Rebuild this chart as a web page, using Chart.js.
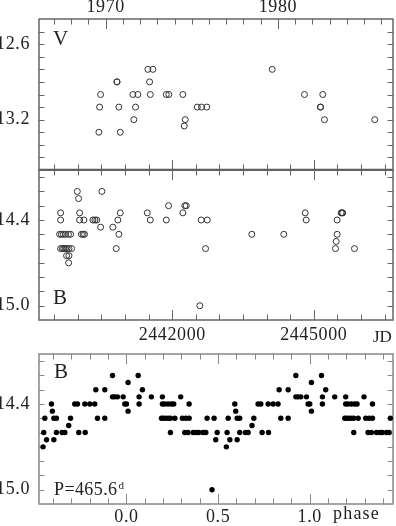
<!DOCTYPE html>
<html><head><meta charset="utf-8">
<script src="https://cdn.jsdelivr.net/npm/chart.js@4.4.0/dist/chart.umd.min.js"></script>
<style>
html,body{margin:0;padding:0;background:#fff;width:396px;height:526px;overflow:hidden}
canvas{position:absolute;left:0}
</style></head><body>
<canvas id="cV" width="396" height="171" style="top:0"></canvas>
<canvas id="cB" width="396" height="181" style="top:169px"></canvas>
<canvas id="cP" width="396" height="186" style="top:340px"></canvas>
<script>
// ---- data ----
const vJD  = [2440445,2440460,2440481,2440826,2440830,2440868,2440898,2441165,2441186,2441222,2441271,2441483,2441519,2441534,2441589,2441873,2441928,2442225,2442254,2442275,2442530,2442621,2442733,2444119,2444803,2445140,2445145,2445191,2445227,2446293];
const vMag = [13.3,13.1,13.0,12.9,12.9,13.1,13.3,13.0,13.2,13.1,13.0,12.8,12.9,13.0,12.8,13.0,13.0,13.0,13.25,13.2,13.1,13.1,13.1,12.8,13.0,13.1,13.1,13.0,13.2,13.2];

const bJD  = [2439633,2439633,2439612,2439650,2439690,2439740,2439800,2439845,2439633,2439670,2439700,2439730,2439770,2439810,2439866,2439760,2439810,2439803,2439987,2440014,2440036,2440036,2440127,2440075,2440110,2440140,2440318,2440360,2440400,2440481,2440508,2440741,2440813,2440847,2440868,2440898,2441470,2441534,2441873,2441922,2442225,2442267,2442297,2442585,2442614,2442706,2442742,2443687,2444365,2444818,2444839,2445460,2445475,2445496,2445496,2445581,2445600,2445615,2445863];
const bMag = [14.35,14.40,14.50,14.50,14.50,14.50,14.50,14.50,14.60,14.60,14.60,14.60,14.60,14.60,14.60,14.65,14.65,14.70,14.20,14.25,14.35,14.40,14.40,14.50,14.50,14.50,14.40,14.40,14.40,14.45,14.20,14.45,14.60,14.40,14.50,14.35,14.35,14.40,14.40,14.30,14.35,14.30,14.30,15.00,14.40,14.60,14.40,14.50,14.50,14.35,14.40,14.60,14.55,14.50,14.40,14.35,14.35,14.35,14.60];

// phases of one cycle (0..1) and B magnitudes
const phaseBase = [0.000,0.009,0.009,0.064,0.069,0.069,0.087,0.136,0.191,0.196,0.196,0.200,0.209,0.213,0.227,0.227,0.240,0.240,0.245,0.258,0.264,0.296,0.305,0.318,0.324,0.336,0.342,0.342,0.364,0.382,0.395,0.418,0.433,0.440,0.467,0.478,0.487,0.495,0.545,0.549,0.555,0.564,0.591,0.596,0.604,0.604,0.618,0.618,0.649,0.664,0.685,0.695,0.718,0.733,0.740,0.773,0.775,0.800,0.827,0.833,0.842,0.882,0.882,0.924,0.924,0.936,0.951,0.982,0.991];
const phaseMag  = [14.40,14.25,14.45,14.20,14.35,14.40,14.30,14.35,14.50,14.35,14.40,14.50,14.40,14.50,14.40,14.50,14.50,14.60,14.40,14.40,14.50,14.35,14.50,14.60,14.50,14.60,14.40,14.50,14.60,14.60,14.60,14.60,14.60,14.50,15.00,14.50,14.65,14.60,14.70,14.60,14.50,14.65,14.40,14.45,14.50,14.65,14.50,14.60,14.60,14.60,14.55,14.50,14.40,14.40,14.60,14.40,14.60,14.40,14.40,14.30,14.50,14.30,14.50,14.20,14.35,14.35,14.35,14.35,14.40];

// tick labels
const yearTickYears  = [1970, 1980];
const yearTickLabels = ['1970', '1980'];
const jdTickValues   = [2442000, 2445000];
const jdTickLabels   = ['2442000', '2445000'];
const phaseTickValues = [0.0, 0.5, 1.0];
const phaseTickLabels = ['0.0', '0.5', '1.0'];
const vTickValues = [12.6, 13.2];
const vTickLabels = ['12.6', '13.2'];
const bTickValues = [14.4, 15.0];
const bTickLabels = ['14.4', '15.0'];

// ---- helpers ----
const JD1970 = 2440587.5;
const yearToJD = y => JD1970 + (y - 1970) * 365.25;
const X_MIN = 2439175, X_MAX = 2446680;
const PH_MIN = -0.477, PH_MAX = 1.454;
const FONT = "'Liberation Serif', 'Times New Roman', serif";

// folded-phase display: each phase drawn within the window at p-1, p, p+1
const phasePts = [];
phaseBase.forEach((p, i) => {
  [p - 1, p, p + 1].forEach(q => { if (q >= PH_MIN && q <= PH_MAX) phasePts.push({x: q, y: phaseMag[i]}); });
});

const range = (a, b, s) => { const r = []; for (let v = a; v <= b + 1e-9; v += s) r.push(+v.toFixed(6)); return r; };
const yearMinor = range(1967, 1986, 1).map(y => ({v: yearToJD(y), major: y % 10 === 0}));
const jdMinor = range(2439500, 2446500, 500).map(v => ({v, major: v === 2442000 || v === 2445000}));
const phMinor = range(-0.4, 1.4, 0.1).map(v => ({v, major: Math.abs(v) < 1e-6 || Math.abs(v - 0.5) < 1e-6 || Math.abs(v - 1) < 1e-6}));
const vMinor = range(12.5, 13.5, 0.1).map(v => ({v, major: false}));
const bMinor = range(14.1, 15.0, 0.1).map(v => ({v, major: false}));

const framePlugin = {
  id: 'frame',
  beforeDraw(chart) { chart.ctx.letterSpacing = '0.6px'; },
  beforeDatasetsDraw(chart, args, o) {
    const {ctx, chartArea: a, scales} = chart;
    ctx.save();
    ctx.strokeStyle = o.color;
    ctx.lineWidth = 1;
    const line = (x1, y1, x2, y2) => { ctx.beginPath(); ctx.moveTo(x1, y1); ctx.lineTo(x2, y2); ctx.stroke(); };
    (o.xTop || []).forEach(t => { const p = Math.round(scales.x.getPixelForValue(t.v)) + 0.5; line(p, a.top, p, a.top + (t.major ? 10 : 5.5)); });
    (o.xBottom || []).forEach(t => { const p = Math.round(scales.x.getPixelForValue(t.v)) + 0.5; line(p, a.bottom, p, a.bottom - (t.major ? 10 : 5.5)); });
    (o.yTicks || []).forEach(t => { const p = Math.round(scales.y.getPixelForValue(t.v)) + 0.5; line(a.left, p, a.left + 5.5, p); line(a.right, p, a.right - 5.5, p); });
    ctx.lineWidth = o.width;
    ctx.strokeRect(a.left, a.top, a.right - a.left, a.bottom - a.top);
    if (o.bottomEdge) {
      ctx.strokeStyle = o.bottomEdge.color; ctx.lineWidth = o.bottomEdge.width;
      line(a.left, a.bottom, a.right, a.bottom);
    }
    ctx.restore();
  },
  afterDraw(chart, args, o) {
    const ctx = chart.ctx;
    ctx.save();
    ctx.fillStyle = '#222';
    ctx.textBaseline = 'alphabetic';
    (o.texts || []).forEach(t => {
      ctx.font = t.size + 'px ' + FONT;
      ctx.letterSpacing = (t.ls || 0) + 'px';
      ctx.textAlign = 'left';
      ctx.fillText(t.text, t.x, t.y);
      if (t.sup) {
        const w = ctx.measureText(t.text).width;
        ctx.font = t.supSize + 'px ' + FONT;
        ctx.fillText(t.sup, t.x + w + 1, t.y - t.supRise);
      }
    });
    ctx.restore();
  }
};

function fixAxis(size, horizontal) {
  return s => {
    if (horizontal) { s.height = size; s.paddingLeft = 0; s.paddingRight = 0; }
    else { s.width = size; s.paddingTop = 0; s.paddingBottom = 0; }
  };
}

function axisX(min, max, position, tickVals, tickLabels, padding, height) {
  return {
    type: 'linear', position, min, max,
    grid: {display: false, drawTicks: false}, border: {display: false},
    afterBuildTicks: s => { s.ticks = tickVals.map(v => ({value: v})); },
    afterFit: fixAxis(height, true),
    ticks: {autoSkip: false, maxRotation: 0, padding, color: '#222', font: {family: FONT, size: 18},
            callback: (v, i) => tickLabels[i]}
  };
}
function axisY(min, max, tickVals, tickLabels) {
  return {
    type: 'linear', position: 'left', min, max, reverse: true,
    grid: {display: false, drawTicks: false}, border: {display: false},
    afterBuildTicks: s => { s.ticks = tickVals.map(v => ({value: v})); },
    afterFit: fixAxis(39, false),
    ticks: {autoSkip: false, padding: 9, color: '#222', font: {family: FONT, size: 18},
            callback: (v, i) => tickLabels[i]}
  };
}
const baseOpts = (padding, scales, frame) => ({
  responsive: false, animation: false, devicePixelRatio: 1,
  layout: {padding, autoPadding: false},
  scales,
  plugins: {legend: {display: false}, tooltip: {enabled: false}, frame}
});
const openPts = (xs, ys) => ({
  data: xs.map((x, i) => ({x, y: ys[i]})),
  showLine: false, pointStyle: 'circle', pointRadius: 3, borderWidth: 1,
  borderColor: '#333', backgroundColor: 'rgba(0,0,0,0)'
});

// Top panel: V vs time (years on top)
new Chart(document.getElementById('cV'), {
  type: 'scatter',
  data: {datasets: [openPts(vJD, vMag)]},
  options: baseOpts({left: 0, top: 0, right: 3, bottom: 1}, {
    x: axisX(X_MIN, X_MAX, 'top', yearTickYears.map(yearToJD), yearTickLabels, 1, 19),
    y: axisY(12.4, 13.6, vTickValues, vTickLabels)
  }, {color: '#666', width: 1.5, xTop: yearMinor, xBottom: jdMinor, yTicks: vMinor,
      bottomEdge: {color: '#555', width: 2.5},
      texts: [{text: 'V', x: 53, y: 45, size: 21}]}),
  plugins: [framePlugin]
});

// Middle panel: B vs JD
new Chart(document.getElementById('cB'), {
  type: 'scatter',
  data: {datasets: [openPts(bJD, bMag)]},
  options: baseOpts({left: 0, top: 1, right: 3, bottom: 0}, {
    x: axisX(X_MIN, X_MAX, 'bottom', jdTickValues, jdTickLabels, 4, 30),
    y: axisY(14.05, 15.1, bTickValues, bTickLabels)
  }, {color: '#666', width: 1.5, xTop: jdMinor, xBottom: jdMinor, yTicks: bMinor,
      texts: [{text: 'B', x: 53, y: 135, size: 21}, {text: 'JD', x: 373, y: 173, size: 17}]}),
  plugins: [framePlugin]
});

// Bottom panel: B vs phase
new Chart(document.getElementById('cP'), {
  type: 'scatter',
  data: {datasets: [{
    data: phasePts, showLine: false, pointStyle: 'circle', pointRadius: 2.7, borderWidth: 0,
    backgroundColor: '#000', borderColor: '#000'
  }]},
  options: baseOpts({left: 0, top: 14, right: 3, bottom: 0}, {
    x: axisX(PH_MIN, PH_MAX, 'bottom', phaseTickValues, phaseTickLabels, 2, 22),
    y: axisY(14.05, 15.1, bTickValues, bTickLabels)
  }, {color: '#888', width: 1.5, xTop: phMinor, xBottom: phMinor, yTicks: bMinor,
      texts: [{text: 'B', x: 54, y: 38, size: 21},
              {text: 'P=465.6', x: 54, y: 155, size: 18, ls: 0.4, sup: 'd', supSize: 11, supRise: 6},
              {text: 'phase', x: 333, y: 179, size: 18, ls: 1.2}]}),
  plugins: [framePlugin]
});
</script>
</body></html>
